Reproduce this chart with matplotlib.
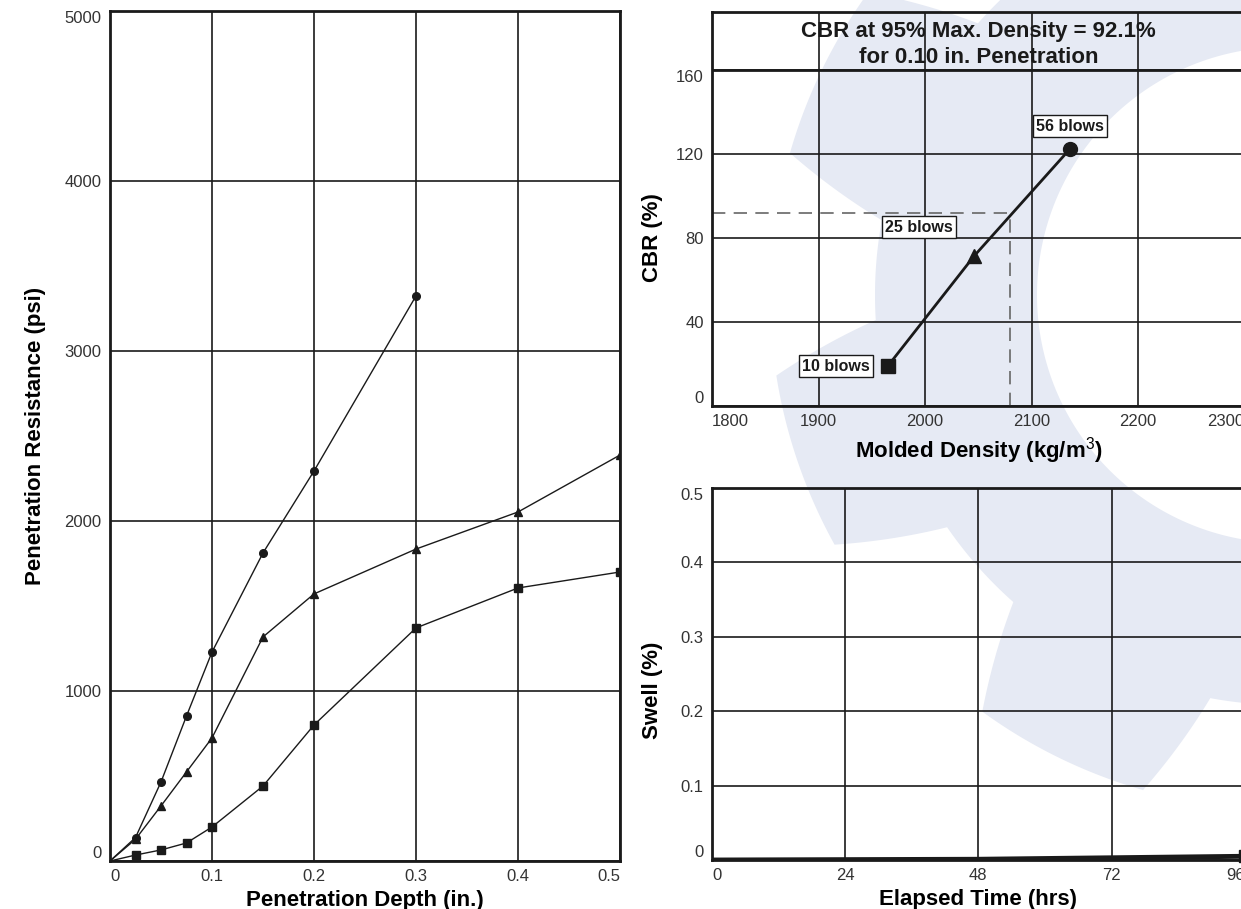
import matplotlib
matplotlib.use("Agg")
import matplotlib.pyplot as plt
import numpy as np
from matplotlib.patches import Polygon

plt.rcParams["font.family"] = ["Liberation Sans", "DejaVu Sans"]
plt.rcParams["mathtext.fontset"] = "custom"
plt.rcParams["mathtext.rm"] = "Liberation Sans"

# penetration test (load vs depth) for the three compaction efforts
depth = [0, 0.025, 0.05, 0.075, 0.1, 0.15, 0.2, 0.3, 0.4, 0.5]
res_56 = [0, 138, 465, 853, 1229, 1812, 2294, 3324]
res_25 = [0, 128, 324, 524, 724, 1318, 1571, 1835, 2053, 2388]
res_10 = [0, 35, 65, 106, 200, 441, 800, 1371, 1606, 1700]

# CBR vs molded density
density = [1965, 2046, 2136]
cbr = [19.0, 71.4, 122.4]
blow_labels = ["10 blows", "25 blows", "56 blows"]
label_x = [1916, 1994, 2136]
label_y = [19.0, 85.2, 133.3]
cbr_95 = 92.1
density_95 = 2080

# swell vs elapsed time
hours = [0, 48, 96]
swell = [0.0, 0.001, 0.005]

ink = "#1a1a1a"
W, H = 1241, 909

fig = plt.figure(figsize=(12.41, 9.09), dpi=100)


def box(l, r, t, b):
    return [l / W, (H - b) / H, (r - l) / W, (b - t) / H]


# faint gear watermark behind the right-hand charts
cx, cy = 1285, 295
th = np.radians(np.arange(0, 360, 0.25))
d = (np.degrees(th) - 116 + 22.5) % 45 - 22.5
ad = np.abs(d)
r = np.where(ad <= 10, 515, np.where(ad >= 15.5, 410, 515 - (ad - 10) / 5.5 * 105))
gx = (cx + r * np.cos(th)) / W
gy = (H - (cy + r * np.sin(th))) / H
fig.add_artist(Polygon(np.column_stack([gx, gy]), closed=True, transform=fig.transFigure,
                       fc="#e6eaf4", ec="none", zorder=-2))
hole = np.linspace(0, 2 * np.pi, 300)
hx = (cx + 248 * np.cos(hole)) / W
hy = (H - (cy + 248 * np.sin(hole))) / H
fig.add_artist(Polygon(np.column_stack([hx, hy]), closed=True, transform=fig.transFigure,
                       fc="white", ec="none", zorder=-1))


def style(ax):
    ax.set_facecolor("none")
    ax.grid(True, color=ink, lw=1.2)
    ax.set_axisbelow(True)
    for s in ax.spines.values():
        s.set_linewidth(2)
        s.set_color(ink)
    ax.tick_params(length=0, labelsize=12, labelcolor="#333333", pad=6)


def edge_labels(ax):
    xt = ax.xaxis.get_major_ticks()
    xt[0].label1.set_horizontalalignment("left")
    xt[-1].label1.set_horizontalalignment("right")
    yt = ax.yaxis.get_major_ticks()
    yt[0].label1.set_verticalalignment("bottom")
    yt[-1].label1.set_verticalalignment("top")


# left: penetration resistance
ax1 = fig.add_axes(box(110, 620, 11, 861))
style(ax1)
ax1.plot(depth[:len(res_56)], res_56, "-o", color=ink, lw=1, ms=5.5, markevery=slice(1, None))
ax1.plot(depth, res_25, "-^", color=ink, lw=1, ms=5.5, markevery=slice(1, None))
ax1.plot(depth, res_10, "-s", color=ink, lw=1, ms=5.5, markevery=slice(1, None))
ax1.set_xlim(0, 0.5)
ax1.set_ylim(0, 5000)
ax1.set_xticks([0, 0.1, 0.2, 0.3, 0.4, 0.5])
ax1.set_xticklabels(["0", "0.1", "0.2", "0.3", "0.4", "0.5"])
ax1.set_yticks([0, 1000, 2000, 3000, 4000, 5000])
edge_labels(ax1)
ax1.set_xlabel("Penetration Depth (in.)", fontsize=16, fontweight="bold", labelpad=4)
ax1.set_ylabel("Penetration Resistance (psi)", fontsize=16, fontweight="bold", labelpad=13)

# top right: CBR vs density
ax2 = fig.add_axes(box(712, 1244.7, 12, 406))
style(ax2)
ax2.plot(density, cbr, "-", color=ink, lw=2)
for x, y, m in zip(density, cbr, ["s", "^", "o"]):
    ax2.plot(x, y, m, color=ink, ms=10)
ax2.plot([1800, density_95], [cbr_95, cbr_95], "--", color="#666666", lw=1.2, dashes=(8, 5))
ax2.plot([density_95, density_95], [0, cbr_95], "--", color="#666666", lw=1.2, dashes=(8, 5))
for x, y, t in zip(label_x, label_y, blow_labels):
    ax2.text(x, y, t, ha="center", va="center", fontsize=11.5, fontweight="bold", color=ink,
             bbox=dict(boxstyle="square,pad=0.2", fc="white", ec=ink, lw=1))
ax2.axhline(160, color=ink, lw=2)
ax2.set_xlim(1800, 2300)
ax2.set_ylim(0, 187.6)
ax2.set_xticks([1800, 1900, 2000, 2100, 2200, 2300])
ax2.set_yticks([0, 40, 80, 120, 160])
edge_labels(ax2)
ax2.text(2050, 172, "CBR at 95% Max. Density = 92.1%\nfor 0.10 in. Penetration",
         ha="center", va="center", fontsize=16, fontweight="bold", color=ink, linespacing=1.3)
ax2.set_xlabel("Molded Density (kg/m$^{3}$)", fontsize=16, fontweight="bold", labelpad=4)
ax2.set_ylabel("CBR (%)", fontsize=16, fontweight="bold")
ax2.yaxis.set_label_coords(-0.092, 80 / 187.6)

# bottom right: swell
ax3 = fig.add_axes(box(712, 1244.7, 488, 860))
style(ax3)
ax3.plot(hours, swell, "-", color=ink, lw=3.5)
ax3.plot(hours[-1], swell[-1], "s", color=ink, ms=9, clip_on=False)
ax3.set_xlim(0, 96)
ax3.set_ylim(0, 0.5)
ax3.set_xticks([0, 24, 48, 72, 96])
ax3.set_yticks([0, 0.1, 0.2, 0.3, 0.4, 0.5])
ax3.set_yticklabels(["0", "0.1", "0.2", "0.3", "0.4", "0.5"])
edge_labels(ax3)
ax3.set_xlabel("Elapsed Time (hrs)", fontsize=16, fontweight="bold", labelpad=4)
ax3.set_ylabel("Swell (%)", fontsize=16, fontweight="bold")
ax3.yaxis.set_label_coords(-0.092, 0.457)

fig.savefig("out.png", dpi=100)
